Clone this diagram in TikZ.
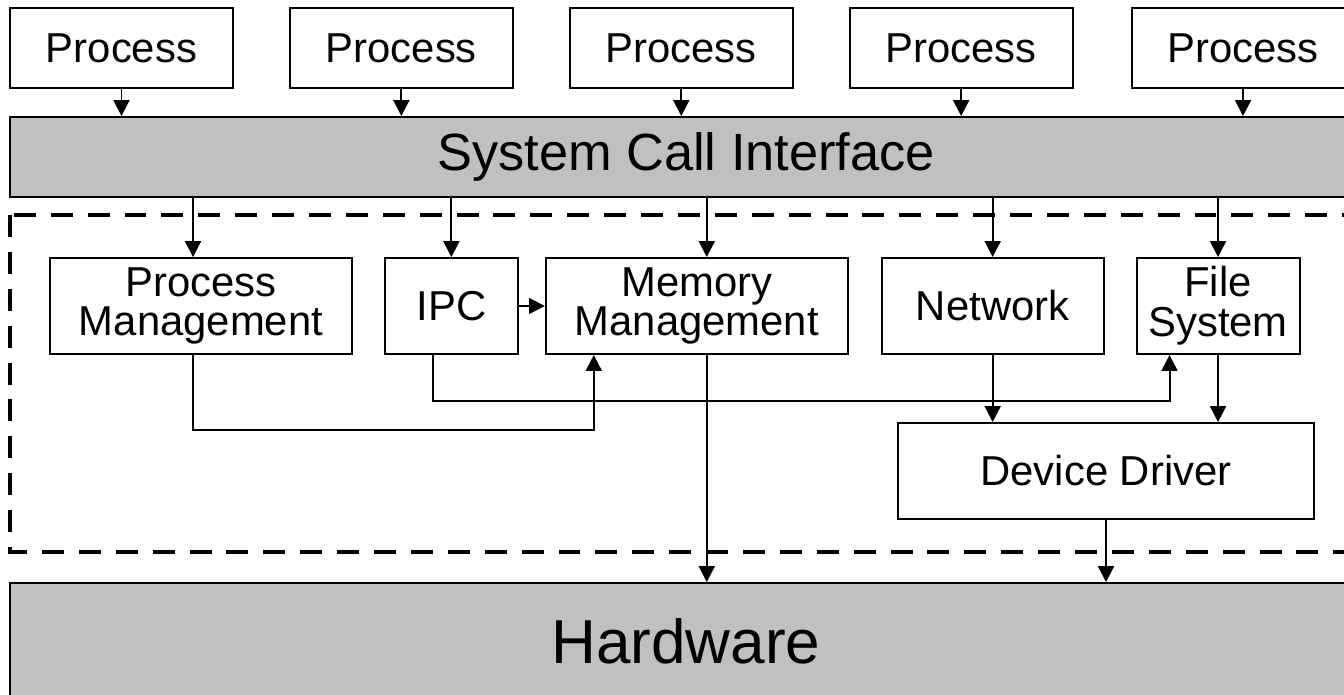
\documentclass[tikz,border=0pt]{standalone}
\usepackage{fontspec}
\setmainfont{Liberation Sans}
\usepackage{tikz}
\usetikzlibrary{positioning, arrows.meta}
\definecolor{layergray}{HTML}{C0C0C0}

\begin{document}
\begin{tikzpicture}[
        x=0.02cm, y=-0.02cm,
        % riquadri bianchi dei processi e dei sottosistemi
        box/.style={
            draw,
            fill=white,
            line width=1.1pt,
            align=center,
            inner sep=0pt,
            minimum height=1.92cm,
            font=\fontsize{23.8}{22.7}\selectfont
        },
        procbox/.style={box, minimum width=4.46cm, minimum height=1.6cm},
        % strati grigi a tutta larghezza
        layer/.style={
            draw,
            fill=layergray,
            line width=1.1pt,
            inner sep=0pt,
            minimum width=27.04cm
        },
        kernel/.style={line width=2.3pt, dash pattern=on 12.5pt off 8.5pt},
        link/.style={->, line width=1.1pt},
        >={Triangle[length=9pt, width=9pt]},
    ]

    \path[use as bounding box, clip] (0,0) rectangle (1344,694);

    % processi utente
    \node[procbox] (p1) at (121.5,48) {Process};
    \node[procbox, right=1.10cm of p1] (p2) {Process};
    \node[procbox, right=1.10cm of p2] (p3) {Process};
    \node[procbox, right=1.10cm of p3] (p4) {Process};
    \node[procbox, right=1.14cm of p4] (p5) {Process};

    \node[layer, minimum height=1.6cm, font=\fontsize{29.8}{30}\selectfont] (sci) at (686,157) {System Call Interface};

    % confine del kernel
    \draw[kernel] (10,215) rectangle (1420,552);

    \node[box, minimum width=6.04cm] (procm) at (201,306) {Process\\Management};
    \node[box, minimum width=2.66cm, right=0.62cm of procm] (ipc) {IPC};
    \node[box, minimum width=6.04cm, right=0.52cm of ipc] (memm) {Memory\\Management};
    \node[box, minimum width=4.44cm, right=0.64cm of memm] (net) {Network};
    \node[box, minimum width=3.26cm, right=0.62cm of net] (fs) {File\\System};
    \node[box, minimum width=8.32cm] (dd) at (1106,471) {Device Driver};

    \node[layer, minimum height=2.32cm, font=\fontsize{35.3}{36}\selectfont] (hw) at (686,641) {Hardware};

    % processi -> system call
    \draw[link] (p1.south) -- (p1.south |- sci.north);
    \draw[link] (p2.south) -- (p2.south |- sci.north);
    \draw[link] (p3.south) -- (p3.south |- sci.north);
    \draw[link] (p4.south) -- (p4.south |- sci.north);
    \draw[link] (p5.south) -- (p5.south |- sci.north);

    % system call -> sottosistemi
    \draw[link] ([xshift=-0.16cm]procm.north |- sci.south) -- ([xshift=-0.16cm]procm.north);
    \draw[link] (ipc.north |- sci.south) -- (ipc.north);
    \draw[link] ([xshift=0.2cm]memm.north |- sci.south) -- ([xshift=0.2cm]memm.north);
    \draw[link] (net.north |- sci.south) -- (net.north);
    \draw[link] (fs.north |- sci.south) -- (fs.north);

    % collegamenti interni
    \draw[link] (ipc) -- (memm);
    \draw[link] ([xshift=-0.16cm]procm.south) -- ++(0,75) -| ([xshift=-2.06cm]memm.south);
    \draw[link] ([xshift=-0.37cm]ipc.south) -- ++(0,46) -| ([xshift=-0.97cm]fs.south);
    \draw[link] (net.south) -- (net.south |- dd.north);
    \draw[link] (fs.south) -- (fs.south |- dd.north);

    % verso l'hardware
    \draw[link] ([xshift=0.2cm]memm.south) -- ([xshift=0.2cm]memm.south |- hw.north);
    \draw[link] (dd.south) -- (dd.south |- hw.north);

\end{tikzpicture}
\end{document}
